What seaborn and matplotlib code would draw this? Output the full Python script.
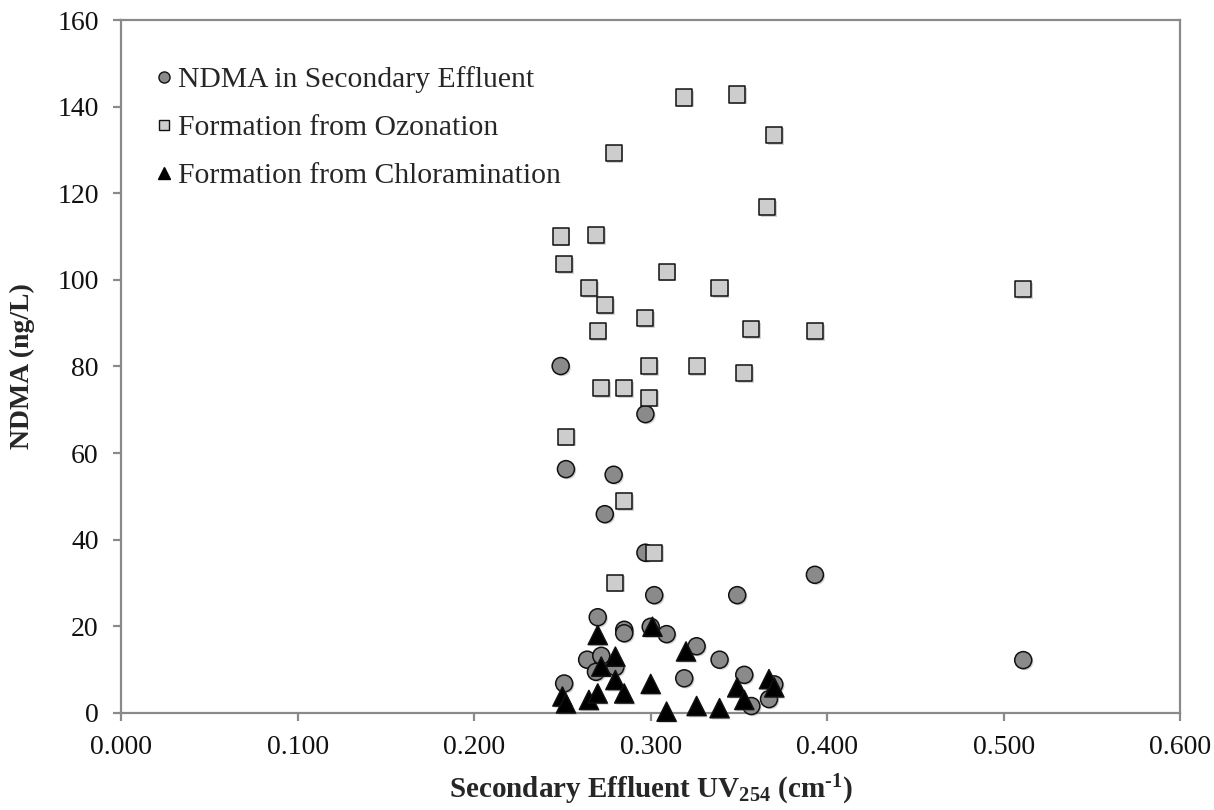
import matplotlib
matplotlib.use("Agg")
import matplotlib.pyplot as plt
import matplotlib.patheffects as pe
from matplotlib.lines import Line2D
import pandas as pd
import seaborn as sns

# NDMA measured in secondary effluent (ng/L) vs. effluent UV254 (1/cm)
effluent_uv = [0.249, 0.251, 0.252, 0.264, 0.269, 0.270, 0.272, 0.274, 0.279,
               0.280, 0.285, 0.285, 0.297, 0.297, 0.300, 0.302, 0.309, 0.319,
               0.326, 0.339, 0.349, 0.353, 0.357, 0.367, 0.370, 0.393, 0.511]
effluent_ndma = [80.1, 6.8, 56.3, 12.3, 9.5, 22.1, 13.2, 45.9, 55.0,
                 10.6, 19.2, 18.4, 37.0, 69.0, 19.9, 27.2, 18.2, 8.0,
                 15.4, 12.3, 27.2, 8.8, 1.6, 3.2, 6.6, 31.9, 12.2]

# NDMA formed during ozonation (ng/L)
ozone_uv = [0.249, 0.251, 0.252, 0.265, 0.269, 0.270, 0.272, 0.274, 0.279,
            0.280, 0.285, 0.285, 0.297, 0.299, 0.299, 0.302, 0.309, 0.319,
            0.326, 0.339, 0.349, 0.353, 0.357, 0.366, 0.370, 0.393, 0.511]
ozone_ndma = [110.0, 103.6, 63.8, 98.1, 110.4, 88.2, 75.0, 94.2, 129.2,
              30.1, 75.0, 48.9, 91.1, 80.1, 72.8, 37.0, 101.9, 142.1,
              80.1, 98.1, 142.8, 78.4, 88.6, 116.8, 133.5, 88.2, 97.9]

# NDMA formed during chloramination (ng/L)
chloramine_uv = [0.250, 0.252, 0.265, 0.270, 0.270, 0.272, 0.280, 0.280, 0.285,
                 0.300, 0.301, 0.309, 0.320, 0.326, 0.339, 0.349, 0.353, 0.367,
                 0.370]
chloramine_ndma = [3.8, 2.2, 3.0, 4.5, 18.0, 10.7, 13.0, 7.6, 4.5,
                   6.7, 19.9, 0.3, 14.2, 1.6, 1.1, 5.9, 3.0, 7.8, 5.9]

series_labels = ["NDMA in Secondary Effluent",
                 "Formation from Ozonation",
                 "Formation from Chloramination"]

x_ticks = [0.0, 0.1, 0.2, 0.3, 0.4, 0.5, 0.6]
y_ticks = [0, 20, 40, 60, 80, 100, 120, 140, 160]

sns.set_style("ticks")
plt.rcParams["font.family"] = ["Liberation Serif", "DejaVu Serif"]
plt.rcParams["mathtext.fontset"] = "custom"
plt.rcParams["mathtext.rm"] = "Liberation Serif:bold"
plt.rcParams["mathtext.bf"] = "Liberation Serif:bold"
plt.rcParams["mathtext.it"] = "Liberation Serif:bold"

fig = plt.figure(figsize=(12.14, 8.10), dpi=100)
ax = fig.add_axes([0.0997, 0.1198, 0.8726, 0.8555])

shadow = [pe.SimplePatchShadow(offset=(1.2, -1.2), shadow_rgbFace="0.5", alpha=0.35),
          pe.Normal()]

styles = [
    (effluent_uv, effluent_ndma, "o", "#8a8a8a", 150),
    (ozone_uv, ozone_ndma, "s", "#cdcdcd", 135),
    (chloramine_uv, chloramine_ndma, "^", "#000000", 190),
]
for (xs, ys, mk, fc, size), lab in zip(styles, series_labels):
    df = pd.DataFrame({"uv": xs, "ndma": ys})
    sns.scatterplot(data=df, x="uv", y="ndma", ax=ax, marker=mk, s=size,
                    color=fc, edgecolor="#111111", linewidth=1.1,
                    clip_on=False, legend=False, zorder=3)
    ax.collections[-1].set_path_effects(shadow)

ax.set_xlim(0, 0.6)
ax.set_ylim(0, 160)
ax.set_xticks(x_ticks)
ax.set_xticklabels([f"{v:.3f}" for v in x_ticks])
ax.set_yticks(y_ticks)
ax.set_yticklabels([str(v) for v in y_ticks])

for sp in ax.spines.values():
    sp.set_visible(True)
    sp.set_color("#8a8a8a")
    sp.set_linewidth(1.6)
ax.tick_params(axis="both", direction="out", length=6, width=1.6,
               color="#8a8a8a", labelsize=20, labelcolor="#111111", pad=10)

ax.set_xlabel("Secondary Effluent UV$_{254}$ (cm$^{\u2010 1}$)", fontsize=21,
              fontweight="bold", labelpad=9)
ax.set_ylabel("NDMA (ng/L)", fontsize=20, fontweight="bold", labelpad=16)

handles = [
    Line2D([], [], linestyle="none", marker="o", markersize=8,
           markerfacecolor="#8a8a8a", markeredgecolor="#111111", markeredgewidth=1.0),
    Line2D([], [], linestyle="none", marker="s", markersize=7.5,
           markerfacecolor="#cdcdcd", markeredgecolor="#111111", markeredgewidth=1.0),
    Line2D([], [], linestyle="none", marker="^", markersize=8.5,
           markerfacecolor="#000000", markeredgecolor="#000000", markeredgewidth=1.0),
]
ax.legend(handles, series_labels, loc="upper left", bbox_to_anchor=(0.012, 0.963),
          frameon=False, fontsize=21.3, handlelength=0.66, handletextpad=0.12,
          labelspacing=0.72, borderpad=0.2)

fig.savefig("out.png", dpi=100, facecolor="white")
